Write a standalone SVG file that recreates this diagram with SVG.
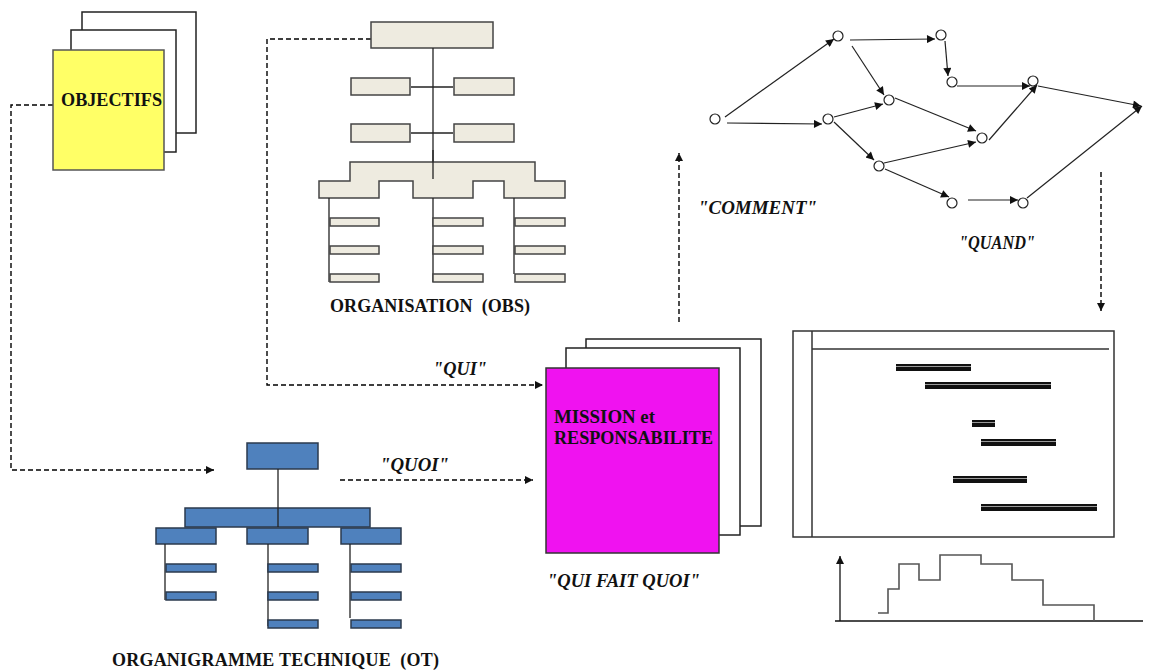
<svg xmlns="http://www.w3.org/2000/svg" width="1154" height="672" viewBox="0 0 1154 672">
  <style>
    .sheet { fill: #ffffff; stroke: #222; stroke-width: 1.5; }
    .obs { fill: #EEEBE0; stroke: #444; stroke-width: 1.5; }
    .ot { fill: #4F81BD; stroke: #2b3a4d; stroke-width: 1.5; }
    .tree { fill: none; stroke: #222; stroke-width: 1.3; }
    .dash { fill: none; stroke: #000; stroke-width: 1.4; stroke-dasharray: 5 3; }
    .edge { fill: none; stroke: #222; stroke-width: 1.2; }
    .evt { fill: #fff; stroke: #222; stroke-width: 1.2; }
    .lbl { font-family: "Liberation Serif", "Times New Roman", serif; font-weight: bold; fill: #111; }
    .quote { font-family: "Liberation Serif", "Times New Roman", serif; font-weight: bold; font-style: italic; fill: #111; }
    .bar { fill: #111; }
    .barhi { stroke: #9a9a9a; stroke-width: 1; }
  </style>
  <defs>
    <marker id="arr" viewBox="0 0 10 10" refX="10" refY="5" markerWidth="10" markerHeight="8" markerUnits="userSpaceOnUse" orient="auto">
      <path d="M0,0 L10,5 L0,10 Z" fill="#111"/>
    </marker>
  </defs>

  <rect width="1154" height="672" fill="#ffffff"/>

  <!-- Connectors -->
  <g id="connectors">
    <!-- OBJECTIFS to OT -->
    <path class="dash" d="M53,105 H11 V470 H214" marker-end="url(#arr)"/>
    <!-- OBS to mission -->
    <path class="dash" d="M371,39 H267 V385 H543" marker-end="url(#arr)"/>
    <!-- OT to mission -->
    <path class="dash" d="M340,480 H533" marker-end="url(#arr)"/>
    <!-- mission up to network -->
    <path class="dash" d="M679,322 V153" marker-end="url(#arr)"/>
    <!-- network down to gantt -->
    <path class="dash" d="M1101,172 V311" marker-end="url(#arr)"/>
  </g>

  <!-- Objectives stack -->
  <g id="objectifs">
    <rect class="sheet" x="82" y="12" width="114" height="121"/>
    <rect class="sheet" x="71" y="30" width="105" height="122"/>
    <rect x="53" y="50" width="111" height="120" fill="#FFFF66" stroke="#555" stroke-width="1.5"/>
    <text class="lbl" x="61" y="106" font-size="18" textLength="101" lengthAdjust="spacingAndGlyphs">OBJECTIFS</text>
  </g>

  <!-- Organisation breakdown structure -->
  <g id="obs">
    <rect class="obs" x="371" y="22" width="122" height="26"/>
    <line class="tree" x1="433" y1="48" x2="433" y2="179"/>
    <line class="tree" x1="411" y1="87" x2="453" y2="87"/>
    <line class="tree" x1="411" y1="133" x2="453" y2="133"/>
    <rect class="obs" x="351" y="78" width="59" height="17"/>
    <rect class="obs" x="454" y="78" width="60" height="17"/>
    <rect class="obs" x="351" y="124" width="59" height="18"/>
    <rect class="obs" x="454" y="124" width="60" height="18"/>
    <path class="obs" d="M350,162 H535 V181 H565 V198 H504 V181 H473 V198 H413 V181 H379 V198 H319 V181 H350 Z"/>
    <line class="tree" x1="433" y1="150" x2="433" y2="179"/>
    <line class="tree" x1="329" y1="198" x2="329" y2="282"/>
    <line class="tree" x1="433" y1="198" x2="433" y2="282"/>
    <line class="tree" x1="514" y1="198" x2="514" y2="274"/>
    <rect class="obs" x="330" y="218" width="49" height="8"/>
    <rect class="obs" x="330" y="246" width="49" height="8"/>
    <rect class="obs" x="330" y="274" width="49" height="8"/>
    <rect class="obs" x="433" y="218" width="50" height="8"/>
    <rect class="obs" x="433" y="246" width="50" height="8"/>
    <rect class="obs" x="433" y="274" width="50" height="8"/>
    <rect class="obs" x="515" y="218" width="50" height="8"/>
    <rect class="obs" x="515" y="246" width="50" height="8"/>
    <rect class="obs" x="515" y="274" width="50" height="8"/>
    <text class="lbl" x="330" y="312" font-size="18" xml:space="preserve" textLength="200" lengthAdjust="spacing">ORGANISATION  (OBS)</text>
  </g>

  <!-- Work breakdown structure -->
  <g id="ot">
    <rect class="ot" x="247" y="443" width="71" height="26"/>
    <rect class="ot" x="185" y="508" width="185" height="19"/>
    <line class="tree" x1="278" y1="469" x2="278" y2="527"/>
    <rect class="ot" x="156" y="528" width="60" height="16"/>
    <rect class="ot" x="247" y="528" width="61" height="16"/>
    <rect class="ot" x="341" y="528" width="60" height="16"/>
    <line class="tree" x1="165" y1="544" x2="165" y2="600"/>
    <line class="tree" x1="268" y1="544" x2="268" y2="626"/>
    <line class="tree" x1="350" y1="544" x2="350" y2="618"/>
    <rect class="ot" x="166" y="564" width="50" height="8"/>
    <rect class="ot" x="166" y="592" width="50" height="8"/>
    <rect class="ot" x="268" y="564" width="50" height="8"/>
    <rect class="ot" x="268" y="592" width="50" height="8"/>
    <rect class="ot" x="268" y="620" width="50" height="8"/>
    <rect class="ot" x="351" y="564" width="50" height="8"/>
    <rect class="ot" x="351" y="592" width="50" height="8"/>
    <rect class="ot" x="351" y="620" width="50" height="8"/>
    <text class="lbl" x="112" y="666" font-size="18" xml:space="preserve" textLength="327" lengthAdjust="spacing">ORGANIGRAMME TECHNIQUE  (OT)</text>
  </g>

  <!-- Mission and responsibility stack -->
  <g id="mission">
    <rect class="sheet" x="586" y="339" width="175" height="187"/>
    <rect class="sheet" x="566" y="348" width="174" height="187"/>
    <rect x="546" y="368" width="173" height="185" fill="#F012F0" stroke="#333" stroke-width="1.5"/>
    <text class="lbl" x="554" y="423" font-size="18" textLength="101" lengthAdjust="spacingAndGlyphs">MISSION et</text>
    <text class="lbl" x="554" y="444" font-size="18" textLength="159" lengthAdjust="spacingAndGlyphs">RESPONSABILITE</text>
  </g>

  <!-- Question labels -->
  <g id="labels">
    <text class="quote" x="433" y="375" font-size="18" textLength="54" lengthAdjust="spacingAndGlyphs">"QUI"</text>
    <text class="quote" x="380" y="471" font-size="18" textLength="69" lengthAdjust="spacingAndGlyphs">"QUOI"</text>
    <text class="quote" x="547" y="587" font-size="18" textLength="153" lengthAdjust="spacingAndGlyphs">"QUI FAIT QUOI"</text>
    <text class="quote" x="698" y="214" font-size="18" textLength="119" lengthAdjust="spacingAndGlyphs">"COMMENT"</text>
    <text class="quote" x="959" y="249" font-size="18" textLength="76" lengthAdjust="spacingAndGlyphs">"QUAND"</text>
  </g>

  <!-- Precedence network -->
  <g id="network">
    <g class="edge" marker-end="url(#arr)">
      <line x1="725" y1="117" x2="834" y2="39"/>
      <line x1="727" y1="123" x2="822" y2="124"/>
      <line x1="850" y1="40" x2="935" y2="39"/>
      <line x1="852" y1="46" x2="884" y2="95"/>
      <line x1="945" y1="41" x2="948" y2="76"/>
      <line x1="957" y1="86" x2="1030" y2="86"/>
      <line x1="1038" y1="86" x2="1141" y2="106"/>
      <line x1="834" y1="117" x2="883" y2="104"/>
      <line x1="895" y1="98" x2="976" y2="131"/>
      <line x1="834" y1="122" x2="874" y2="160"/>
      <line x1="884" y1="163" x2="976" y2="142"/>
      <line x1="989" y1="140" x2="1037" y2="85"/>
      <line x1="885" y1="169" x2="949" y2="197"/>
      <line x1="968" y1="200" x2="1018" y2="200"/>
      <line x1="1027" y1="198" x2="1142" y2="106"/>
    </g>
    <circle class="evt" cx="715" cy="119" r="5"/>
    <circle class="evt" cx="838" cy="36" r="5"/>
    <circle class="evt" cx="941" cy="35" r="5"/>
    <circle class="evt" cx="952" cy="82" r="5"/>
    <circle class="evt" cx="1033" cy="81" r="5"/>
    <circle class="evt" cx="889" cy="100" r="5"/>
    <circle class="evt" cx="828" cy="119" r="5"/>
    <circle class="evt" cx="982" cy="138" r="5"/>
    <circle class="evt" cx="879" cy="166" r="5"/>
    <circle class="evt" cx="952" cy="203" r="5"/>
    <circle class="evt" cx="1023" cy="203" r="5"/>
  </g>

  <!-- Gantt chart -->
  <g id="gantt">
    <rect x="793" y="331" width="321" height="206" fill="#fff" stroke="#333" stroke-width="1.5"/>
    <line x1="812" y1="331" x2="812" y2="537" stroke="#333" stroke-width="1.5"/>
    <line x1="812" y1="349" x2="1109" y2="349" stroke="#333" stroke-width="1.3"/>
    <rect class="bar" x="896" y="364" width="75" height="7"/>
    <rect class="bar" x="925" y="382" width="126" height="7"/>
    <rect class="bar" x="972" y="420" width="23" height="7"/>
    <rect class="bar" x="981" y="439" width="75" height="7"/>
    <rect class="bar" x="953" y="476" width="74" height="7"/>
    <rect class="bar" x="981" y="504" width="116" height="7"/>
    <g class="barhi">
      <line x1="896" y1="366.5" x2="971" y2="366.5"/>
      <line x1="925" y1="384.5" x2="1051" y2="384.5"/>
      <line x1="972" y1="422.5" x2="995" y2="422.5"/>
      <line x1="981" y1="441.5" x2="1056" y2="441.5"/>
      <line x1="953" y1="478.5" x2="1027" y2="478.5"/>
      <line x1="981" y1="506.5" x2="1097" y2="506.5"/>
    </g>
  </g>

  <!-- Resource histogram -->
  <g id="histogram">
    <line x1="840" y1="621" x2="840" y2="556" stroke="#111" stroke-width="1.3" marker-end="url(#arr)"/>
    <line x1="835" y1="621" x2="1143" y2="621" stroke="#111" stroke-width="1.3"/>
    <path d="M878,613 H888 V589 H899 V564 H919 V580 H940 V555 H981 V564 H1012 V580 H1043 V605 H1094 V621" fill="none" stroke="#555" stroke-width="1.6"/>
  </g>
</svg>
